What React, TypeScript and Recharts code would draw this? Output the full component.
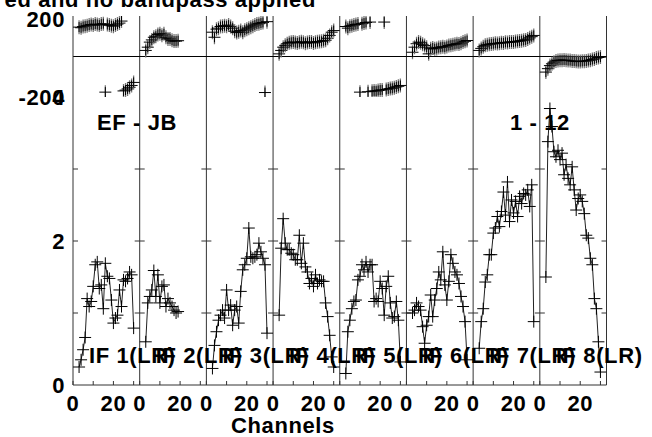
import React from 'react'
import { ComposedChart, Line, Scatter, XAxis, YAxis, ReferenceLine } from 'recharts'

const W = 652
const H = 437
const SPAN = 33 // channel span of one IF panel
const FONT = '"Liberation Sans", Arial, Helvetica, sans-serif'

const ifLabels = ['IF 1(LR)', 'IF 2(LR)', 'IF 3(LR)', 'IF 4(LR)', 'IF 5(LR)', 'IF 6(LR)', 'IF 7(LR)', 'IF 8(LR)']
const firstChan = 3
const channelTicks = [0, 10, 20, 30]
const labelledTicks = [0, 20]
const ampTicks = [0, 2, 4]
const ampMinorTicks = [1, 2, 3]
const phaseTicks = [-200, 200]

// amplitude per channel, starting at channel 3
const amp1 = [0.25, 0.35, 0.49, 0.66, 1.2, 1.09, 1.16, 1.37, 1.67, 1.71, 1.34, 1.39, 1.06, 1.69, 1.51, 1.48, 1.18, 0.86, 0.93, 0.97, 1.32, 1.09, 1.46, 1.44, 1.48, 1.57, 1.53, 0.79]
const amp2 = [0.6, 1.14, 1.23, 1.32, 1.59, 1.23, 1.53, 1.14, 1.37, 1.39, 1.09, 1.2, 1.14, 1.09, 1.04, 1.0, 1.02]
const amp3 = [0.23, 0.55, 0.74, 0.9, 0.97, 1.04, 0.93, 1.32, 1.04, 1.11, 0.83, 1.04, 1.09, 0.86, 1.3, 1.6, 1.67, 1.76, 2.18, 1.78, 1.76, 1.78, 1.81, 1.97, 1.85, 1.76, 1.67, 0.72]
const amp4 = [0.97, 1.9, 2.31, 1.97, 1.88, 1.88, 1.83, 1.81, 1.74, 1.74, 2.08, 1.69, 1.97, 1.64, 1.57, 1.41, 1.48, 1.37, 1.53, 1.41, 1.46, 1.44, 1.44, 1.14, 0.95, 0.69, 0.39, 0.25]
const amp5 = [0.16, 0.74, 0.9, 1.06, 1.16, 1.18, 1.46, 1.51, 1.67, 1.6, 1.71, 1.57, 1.67, 1.67, 1.16, 1.2, 1.16, 1.44, 1.34, 0.97, 1.37, 1.51, 1.14, 0.93, 0.95, 1.16, 0.9, 0.32]
const amp6 = [1.0, 1.04, 1.14, 1.09, 1.04, 0.81, 0.58, 0.83, 0.95, 1.25, 0.95, 1.18, 1.34, 1.57, 1.46, 1.85, 1.39, 1.18, 1.44, 1.81, 1.69, 1.57, 1.53, 1.41, 1.23, 1.09, 0.88, 0.35]
const amp7 = [0.51, 0.88, 1.06, 1.43, 1.53, 1.81, 1.81, 2.11, 2.18, 2.34, 2.2, 2.41, 2.68, 2.36, 2.82, 2.27, 2.57, 2.39, 2.55, 2.34, 2.62, 2.52, 2.66, 2.64, 2.71, 2.48, 2.78, 0.88]
const amp8 = [1.5, 3.38, 3.84, 3.59, 3.24, 3.17, 3.26, 3.13, 3.22, 2.92, 3.06, 2.87, 2.78, 3.03, 2.71, 2.43, 2.59, 2.64, 2.55, 2.38, 2.08, 2.04, 1.76, 1.67, 1.2, 1.06, 0.6, 0.18]

// phase (degrees) per channel, starting at channel 3
const phase1 = [145, 142, 148, 150, 152, 155, 158, 156, 160, 158, 155, 160, 162, -176, 158, 155, 152, 150, 155, 160, 165, 175, -170, -166, -160, -152, -143, -128]
const phase2 = [30, 46, 71, 82, 95, 100, 109, 112, 105, 112, 95, 87, 87, 80, 76, 76, 78]
const phase3 = [120, 95, 135, 140, 148, 150, 152, 150, 155, 148, 140, 125, 118, 122, 128, 120, 130, 135, 140, 145, 150, 155, 160, 162, 165, 168, -178, 172]
const phase4 = [13, 30, 46, 55, 63, 68, 70, 72, 69, 67, 70, 73, 70, 66, 69, 72, 71, 67, 70, 73, 74, 75, 78, 80, 90, 104, 120, 128]
const phase5 = [148, 140, 150, 152, 155, 158, 160, -176, 162, 165, 168, -174, 170, -172, -170, -171, -168, -166, -165, 170, -163, -160, -158, -157, -154, -150, -147, -143]
const phase6 = [21, 46, 63, 71, 68, 60, 54, 46, 13, 38, 42, 38, 40, 44, 46, 48, 46, 50, 54, 56, 58, 60, 63, 62, 66, 71, 75, 79]
const phase7 = [30, 40, 48, 55, 58, 60, 62, 63, 65, 64, 66, 68, 67, 70, 69, 71, 72, 71, 74, 75, 76, 78, 80, 82, 86, 92, 98, 104]
const phase8 = [-77, -60, -45, -36, -28, -22, -20, -18, -18, -17, -18, -20, -20, -22, -22, -24, -25, -25, -24, -23, -22, -20, -18, -15, -12, -8, -5, -3]

const ampByIF = [amp1, amp2, amp3, amp4, amp5, amp6, amp7, amp8]
const phaseByIF = [phase1, phase2, phase3, phase4, phase5, phase6, phase7, phase8]

const nIF = ampByIF.length
const xMax = nIF * SPAN

// one long channel axis, IF k occupies [k*SPAN, (k+1)*SPAN]
const ampLine: { x: number; amp: number | null }[] = []
ampByIF.forEach((vals, k) => {
  vals.forEach((v, j) => ampLine.push({ x: k * SPAN + firstChan + j, amp: v }))
  ampLine.push({ x: (k + 1) * SPAN, amp: null })
})
const ampPoints = ampLine.filter((d) => d.amp !== null)

const phasePoints: { x: number; ph: number }[] = []
phaseByIF.forEach((vals, k) => {
  vals.forEach((v, j) => phasePoints.push({ x: k * SPAN + firstChan + j, ph: v }))
})

const xTicks: number[] = []
for (let k = 0; k < nIF; k++) channelTicks.forEach((t) => xTicks.push(k * SPAN + t))
xTicks.push(xMax)

const bounds = Array.from({ length: nIF + 1 }, (_, k) => k * SPAN)
const borderMarks = bounds.flatMap((b) => ampMinorTicks.map((y) => ({ x: b, y })))

const LINE = '#333'

const AmpCross = (p: any) => (
  <g stroke="#000" strokeWidth={1}>
    <line x1={p.cx - 6} x2={p.cx + 6} y1={p.cy} y2={p.cy} />
    <line x1={p.cx} x2={p.cx} y1={p.cy - 6} y2={p.cy + 6} />
  </g>
)

const PhaseCross = (p: any) => (
  <g strokeWidth={1}>
    <line x1={p.cx} x2={p.cx} y1={p.cy - 7} y2={p.cy + 7} stroke="#777" strokeWidth={1.3} />
    <line x1={p.cx - 6} x2={p.cx + 6} y1={p.cy} y2={p.cy} stroke="#000" />
    <line x1={p.cx} x2={p.cx} y1={p.cy - 5} y2={p.cy + 5} stroke="#000" />
  </g>
)

const BorderMark = (p: any) => (
  <line x1={p.cx - 5} x2={p.cx + 5} y1={p.cy} y2={p.cy} stroke={LINE} strokeWidth={1} />
)

const textStyle = { fontFamily: FONT, fontWeight: 700, fontSize: 22, letterSpacing: 0.6, fill: '#000' }

const BottomTick = ({ x, y, payload }: any) => {
  const v = payload.value
  const label = v < xMax && labelledTicks.includes(v % SPAN) ? String(v % SPAN) : ''
  return (
    <text x={x} y={y} dy="0.71em" textAnchor="middle" style={textStyle}>
      {label}
    </text>
  )
}

const LeftTick = ({ x, y, payload }: any) => (
  <text x={x} y={y + (payload.value === 200 ? 3 : 0)} dy="0.355em" textAnchor="end" style={textStyle}>
    {payload.value}
  </text>
)

const noLabel = () => ''

export default function App() {
  return (
    <div style={{ position: 'absolute', left: 0, top: 0, width: W, height: H, background: '#fff' }}>
      {/* phase panels */}
      <div style={{ position: 'absolute', left: 0, top: 0 }}>
        <ComposedChart width={W} height={H} margin={{ top: 16, right: 45.5, bottom: 340, left: 0 }}>
          <XAxis xAxisId="b" dataKey="x" type="number" domain={[0, xMax]} ticks={xTicks} interval={0}
            height={0} tickSize={4} tickFormatter={noLabel} stroke={LINE} allowDataOverflow />
          <XAxis xAxisId="t" orientation="top" dataKey="x" type="number" domain={[0, xMax]} ticks={xTicks}
            interval={0} height={0} tickSize={-4} tickFormatter={noLabel} stroke={LINE} allowDataOverflow />
          <YAxis type="number" domain={[-200, 200]} ticks={phaseTicks} width={73} tickLine={false}
            tick={<LeftTick />} stroke={LINE} allowDataOverflow />
          {bounds.slice(1).map((b) => (
            <ReferenceLine key={b} xAxisId="b" x={b} stroke={LINE} />
          ))}
          <ReferenceLine xAxisId="b" y={0} stroke="#000" />
          <Scatter xAxisId="b" data={phasePoints} dataKey="ph" shape={PhaseCross} isAnimationActive={false} />
        </ComposedChart>
      </div>
      {/* amplitude panels */}
      <div style={{ position: 'absolute', left: 0, top: 0 }}>
        <ComposedChart width={W} height={H} margin={{ top: 97, right: 45.5, bottom: 22, left: 0 }}>
          <XAxis xAxisId="b" dataKey="x" type="number" domain={[0, xMax]} ticks={xTicks} interval={0}
            height={30} tickSize={-4} tickMargin={14} tick={<BottomTick />} stroke={LINE} allowDataOverflow />
          <XAxis xAxisId="t" orientation="top" dataKey="x" type="number" domain={[0, xMax]} ticks={xTicks}
            interval={0} height={0} tickSize={4} tickFormatter={noLabel} stroke={LINE} allowDataOverflow />
          <YAxis type="number" domain={[0, 4]} ticks={ampTicks} width={73} tickLine={false}
            tick={<LeftTick />} stroke={LINE} allowDataOverflow />
          {bounds.slice(1).map((b) => (
            <ReferenceLine key={b} xAxisId="b" x={b} stroke={LINE} />
          ))}
          <Scatter xAxisId="b" data={borderMarks} dataKey="y" shape={BorderMark} isAnimationActive={false} />
          <Line xAxisId="b" data={ampLine} dataKey="amp" type="linear" stroke="#222" strokeWidth={1}
            dot={false} connectNulls={false} isAnimationActive={false} />
          <Scatter xAxisId="b" data={ampPoints} dataKey="amp" shape={AmpCross} isAnimationActive={false} />
        </ComposedChart>
      </div>
      {/* labels */}
      <svg width={W} height={H} style={{ position: 'absolute', left: 0, top: 0, pointerEvents: 'none' }}>
        <text x={316} y={7} textAnchor="end" style={textStyle}>ed and no bandpass applied</text>
        <text x={97} y={130} style={textStyle}>EF - JB</text>
        <text x={510} y={130} style={textStyle}>1 - 12</text>
        {ifLabels.map((s, k) => (
          <text key={s} x={89 + k * 66.7} y={363} style={textStyle}>{s}</text>
        ))}
        <text x={283} y={433} textAnchor="middle" style={textStyle}>Channels</text>
      </svg>
    </div>
  )
}
